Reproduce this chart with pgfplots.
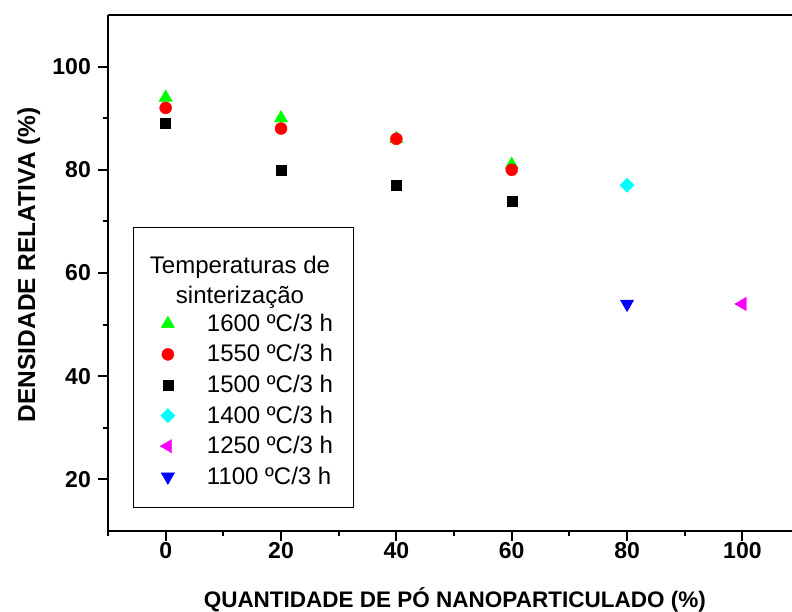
\documentclass[border=0pt]{standalone}
\usepackage{pgfplots}
\pgfplotsset{compat=1.18}
\usepackage{fontspec}
\setmainfont{Liberation Sans}
\definecolor{cgreen}{RGB}{0,255,0}
\definecolor{cred}{RGB}{255,0,0}
\definecolor{ccyan}{RGB}{0,255,255}
\definecolor{cmag}{RGB}{255,0,255}
\definecolor{cblue}{RGB}{0,0,255}
\begin{document}
\begin{tikzpicture}
\useasboundingbox (-108pt,-81pt) rectangle (684pt,531pt);
\begin{axis}[
  at={(0,0)}, anchor=south west,
  scale only axis, width=684pt, height=516pt,
  xmin=-10, xmax=108.6, ymin=10, ymax=110,
  axis x line*=bottom, axis y line*=left,
  axis line style={line width=2pt},
  xtick={0,20,...,100}, ytick={20,40,...,100},
  minor xtick={-10,10,30,50,70,90},
  minor ytick={30,50,70,90},
  tick align=outside,
  major tick length=10pt, minor tick length=5pt,
  every tick/.style={line width=2pt, black},
  /pgf/number format/assume math mode=true,
  xticklabel style={font=\bfseries\fontsize{23}{23}\selectfont, inner sep=0pt, anchor=north, yshift=-1.5pt},
  yticklabel style={font=\bfseries\fontsize{23}{23}\selectfont, inner sep=0pt, anchor=east, xshift=-7pt},
  xlabel={QUANTIDADE DE PÓ NANOPARTICULADO (\%)},
  ylabel={DENSIDADE RELATIVA (\%)},
  xlabel style={font=\bfseries\fontsize{22.5}{22.5}\selectfont, at={(axis description cs:0.507,0)}, anchor=base, yshift=-76.5pt, inner sep=0pt},
  ylabel style={font=\bfseries\fontsize{24.5}{24.5}\selectfont, at={(axis description cs:-0.1067,0.516)}, anchor=base, inner sep=0pt},
  clip=false,
  legend image code/.code={\draw[#1, yshift=1.5pt] plot coordinates {(0pt,0pt)};},
  legend cell align=left,
  legend style={draw=none, fill=none, at={(rel axis cs:0.0716,0.4262)}, anchor=north west,
    font=\fontsize{24}{24}\selectfont, row sep=6.6pt, column sep=32pt,
    nodes={inner sep=0pt, text height=18pt, text depth=6pt}},
]
\addplot[only marks, mark=triangle*, mark size=7.7pt, color=cgreen] coordinates {(0,94) (20,90) (40,86) (60,81)};
\addlegendentry{1600 ºC/3 h}
\addplot[only marks, mark=*, mark size=6pt, color=cred] coordinates {(0,92) (20,88) (40,86) (60,80)};
\addlegendentry{1550 ºC/3 h}
\addplot[only marks, mark=square*, mark size=5pt, color=black] coordinates {(0,89) (20,80) (40,77) (60,74)};
\addlegendentry{1500 ºC/3 h}
\addplot[only marks, mark=square*, mark size=5pt, mark options={rotate=45}, color=ccyan] coordinates {(80,77)};
\addlegendentry{1400 ºC/3 h}
\addplot[only marks, mark=triangle*, mark size=7.7pt, mark options={rotate=90}, color=cmag] coordinates {(100,54)};
\addlegendentry{1250 ºC/3 h}
\addplot[only marks, mark=triangle*, mark size=7.7pt, mark options={rotate=180}, color=cblue] coordinates {(80,54)};
\addlegendentry{1100 ºC/3 h}
\draw[line width=2pt] (rel axis cs:0,1) -- (rel axis cs:1,1);
\draw[line width=1pt] (rel axis cs:0.0380,0.5872) rectangle (rel axis cs:0.3596,0.0465);
\node[font=\fontsize{24}{30.5}\selectfont, align=center, inner sep=0pt] at (rel axis cs:0.193,0.482) {Temperaturas de\\sinterização};
\end{axis}
\end{tikzpicture}
\end{document}
